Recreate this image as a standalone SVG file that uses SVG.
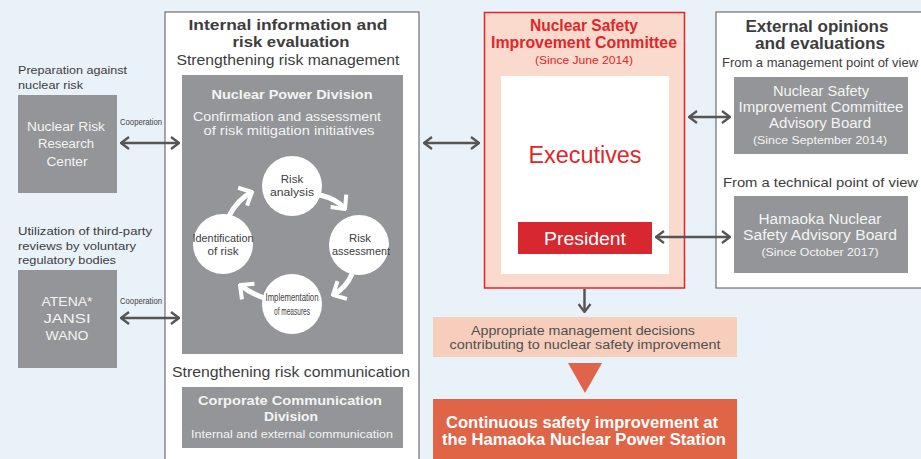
<svg xmlns="http://www.w3.org/2000/svg" width="921" height="459" viewBox="0 0 921 459">
<style>
text{font-family:"Liberation Sans",Arial,sans-serif;}
.dk{fill:#3d3d3d}
.wt{fill:#f4f4f4}
.b{font-weight:bold}
.gbox{fill:#939598}
.c{text-anchor:middle}
.gl{stroke:#555;stroke-width:2.5;fill:none}
.wl{stroke:#fff;stroke-width:5;fill:none}
</style>
<defs>
<marker id="ah" viewBox="0 0 10 14" refX="9" refY="7" markerWidth="10" markerHeight="14" markerUnits="userSpaceOnUse" orient="auto-start-reverse"><path d="M1,1 L9,7 L1,13" fill="none" stroke="#555" stroke-width="2.3"/></marker>
<marker id="wh" viewBox="0 0 14 24" refX="12" refY="12" markerWidth="14" markerHeight="24" markerUnits="userSpaceOnUse" orient="auto"><path d="M1.5,2 L12,12 L1.5,22" fill="none" stroke="#fff" stroke-width="4"/></marker>
</defs>
<rect width="921" height="459" fill="#e9f1f9"/>

<g id="nrrc">
<text class="dk" x="18" y="74" font-size="11.5" textLength="109" lengthAdjust="spacingAndGlyphs">Preparation against</text>
<text class="dk" x="18" y="89" font-size="11.5" textLength="65" lengthAdjust="spacingAndGlyphs">nuclear risk</text>
<rect class="gbox" x="18" y="95" width="99" height="98"/>
<text class="wt c" x="66" y="131" font-size="12.5" textLength="78" lengthAdjust="spacingAndGlyphs">Nuclear Risk</text>
<text class="wt c" x="66" y="148" font-size="12.5" textLength="56" lengthAdjust="spacingAndGlyphs">Research</text>
<text class="wt c" x="67" y="166" font-size="12.5" textLength="41" lengthAdjust="spacingAndGlyphs">Center</text>
</g>

<g id="atena">
<text class="dk" x="18" y="235" font-size="11.5" textLength="134" lengthAdjust="spacingAndGlyphs">Utilization of third-party</text>
<text class="dk" x="18" y="250" font-size="11.5" textLength="118" lengthAdjust="spacingAndGlyphs">reviews by voluntary</text>
<text class="dk" x="18" y="264" font-size="11.5" textLength="98" lengthAdjust="spacingAndGlyphs">regulatory bodies</text>
<rect class="gbox" x="18" y="270" width="99" height="98"/>
<text class="wt c" x="67" y="306" font-size="12.5" textLength="51" lengthAdjust="spacingAndGlyphs">ATENA*</text>
<text class="wt c" x="67" y="323" font-size="12.5" textLength="47" lengthAdjust="spacingAndGlyphs">JANSI</text>
<text class="wt c" x="67" y="340" font-size="12.5" textLength="43" lengthAdjust="spacingAndGlyphs">WANO</text>
</g>

<g id="internal">
<rect x="165" y="12" width="254" height="460" fill="#fff" stroke="#555" stroke-width="1"/>
<text class="dk b c" x="288" y="30" font-size="15" textLength="199" lengthAdjust="spacingAndGlyphs">Internal information and</text>
<text class="dk b c" x="291" y="47" font-size="15" textLength="117" lengthAdjust="spacingAndGlyphs">risk evaluation</text>
<text class="dk c" x="288" y="65" font-size="14" textLength="223" lengthAdjust="spacingAndGlyphs">Strengthening risk management</text>
<text class="dk c" x="291" y="377" font-size="14" textLength="238" lengthAdjust="spacingAndGlyphs">Strengthening risk communication</text>
</g>

<g id="npd">
<rect class="gbox" x="182" y="75" width="221" height="279"/>
<text class="wt b c" x="292" y="99" font-size="13" textLength="161" lengthAdjust="spacingAndGlyphs">Nuclear Power Division</text>
<text class="wt c" x="287" y="121" font-size="12.5" textLength="188" lengthAdjust="spacingAndGlyphs">Confirmation and assessment</text>
<text class="wt c" x="289" y="135" font-size="12.5" textLength="171" lengthAdjust="spacingAndGlyphs">of risk mitigation initiatives</text>
</g>

<g id="cycle">
<circle cx="292" cy="186" r="30" fill="#fff"/>
<circle cx="223" cy="244" r="30" fill="#fff"/>
<circle cx="359" cy="245" r="30" fill="#fff"/>
<circle cx="292" cy="304" r="30" fill="#fff"/>
<path class="wl" d="M320,195 Q337,199 345,209" marker-end="url(#wh)"/>
<path class="wl" d="M352,274 Q346,288 333,295" marker-end="url(#wh)"/>
<path class="wl" d="M264,298 Q250,293 240,285" marker-end="url(#wh)"/>
<path class="wl" d="M229,216 Q238,199 252,192" marker-end="url(#wh)"/>
<text class="dk c" x="292" y="183" font-size="11.5">Risk</text>
<text class="dk c" x="292" y="196" font-size="11.5" textLength="44" lengthAdjust="spacingAndGlyphs">analysis</text>
<text class="dk c" x="223" y="242" font-size="11.5" textLength="61" lengthAdjust="spacingAndGlyphs">Identification</text>
<text class="dk c" x="223" y="255" font-size="11.5" textLength="31" lengthAdjust="spacingAndGlyphs">of risk</text>
<text class="dk c" x="360" y="242" font-size="11.5" textLength="22" lengthAdjust="spacingAndGlyphs">Risk</text>
<text class="dk c" x="361" y="255" font-size="11.5" textLength="58" lengthAdjust="spacingAndGlyphs">assessment</text>
<text class="dk c" x="292" y="301" font-size="11" textLength="53" lengthAdjust="spacingAndGlyphs">Implementation</text>
<text class="dk c" x="292" y="315" font-size="11" textLength="36" lengthAdjust="spacingAndGlyphs">of measures</text>
</g>

<g id="ccd">
<rect class="gbox" x="182" y="387" width="221" height="61"/>
<text class="wt b c" x="290" y="405" font-size="13" textLength="184" lengthAdjust="spacingAndGlyphs">Corporate Communication</text>
<text class="wt b c" x="291" y="421" font-size="13" textLength="54" lengthAdjust="spacingAndGlyphs">Division</text>
<text class="wt c" x="292" y="438" font-size="11.5" textLength="202" lengthAdjust="spacingAndGlyphs">Internal and external communication</text>
</g>

<g id="committee">
<rect x="484.5" y="12.5" width="200" height="275.5" fill="#f9dacd" stroke="#e0262b" stroke-width="1.5"/>
<text class="b c" fill="#e0262b" x="584" y="31" font-size="16" textLength="108" lengthAdjust="spacingAndGlyphs">Nuclear Safety</text>
<text class="b c" fill="#e0262b" x="584" y="48" font-size="16" textLength="186" lengthAdjust="spacingAndGlyphs">Improvement Committee</text>
<text class="c" fill="#e0262b" x="584" y="64" font-size="11" textLength="98" lengthAdjust="spacingAndGlyphs">(Since June 2014)</text>
<rect x="501" y="76" width="168" height="198" fill="#fff"/>
<text class="c" fill="#e0262b" x="585" y="163" font-size="23" textLength="113" lengthAdjust="spacingAndGlyphs">Executives</text>
</g>

<g id="president">
<rect x="518" y="222" width="134" height="32" fill="#d7282f"/>
<text class="c" fill="#fff" x="585" y="245" font-size="19" textLength="82" lengthAdjust="spacingAndGlyphs">President</text>
</g>

<g id="external">
<rect x="716" y="12" width="220" height="276" fill="#fff" stroke="#555" stroke-width="1"/>
<text class="dk b c" x="817" y="32" font-size="16" textLength="143" lengthAdjust="spacingAndGlyphs">External opinions</text>
<text class="dk b c" x="820" y="49" font-size="16" textLength="130" lengthAdjust="spacingAndGlyphs">and evaluations</text>
<text class="dk" x="722" y="67" font-size="13" textLength="196" lengthAdjust="spacingAndGlyphs">From a management point of view</text>
<text class="dk" x="723" y="187" font-size="13" textLength="195" lengthAdjust="spacingAndGlyphs">From a technical point of view</text>
</g>

<g id="advisory">
<rect class="gbox" x="734" y="77" width="174" height="77"/>
<text class="wt c" x="821" y="96" font-size="14" textLength="96" lengthAdjust="spacingAndGlyphs">Nuclear Safety</text>
<text class="wt c" x="821" y="112" font-size="14" textLength="165" lengthAdjust="spacingAndGlyphs">Improvement Committee</text>
<text class="wt c" x="820" y="128" font-size="14" textLength="102" lengthAdjust="spacingAndGlyphs">Advisory Board</text>
<text class="wt c" x="820" y="144" font-size="11.5" textLength="134" lengthAdjust="spacingAndGlyphs">(Since September 2014)</text>
</g>

<g id="hamaoka">
<rect class="gbox" x="734" y="196" width="174" height="77"/>
<text class="wt c" x="820" y="224" font-size="14" textLength="123" lengthAdjust="spacingAndGlyphs">Hamaoka Nuclear</text>
<text class="wt c" x="820" y="240" font-size="14" textLength="154" lengthAdjust="spacingAndGlyphs">Safety Advisory Board</text>
<text class="wt c" x="820" y="256" font-size="11.5" textLength="117" lengthAdjust="spacingAndGlyphs">(Since October 2017)</text>
</g>

<g id="decisions">
<rect x="433" y="317" width="304" height="40" fill="#f7cebc"/>
<text class="c" fill="#505050" x="583" y="335" font-size="13" textLength="224" lengthAdjust="spacingAndGlyphs">Appropriate management decisions</text>
<text class="c" fill="#505050" x="585" y="349" font-size="13" textLength="271" lengthAdjust="spacingAndGlyphs">contributing to nuclear safety improvement</text>
</g>

<g id="triangle">
<polygon points="568,363 602,363 585,393" fill="#e0644a"/>
</g>

<g id="result">
<rect x="433" y="399" width="304" height="70" fill="#e06446"/>
<text class="b c" fill="#fff" x="582" y="428" font-size="16" textLength="272" lengthAdjust="spacingAndGlyphs">Continuous safety improvement at</text>
<text class="b c" fill="#fff" x="584" y="445" font-size="16" textLength="284" lengthAdjust="spacingAndGlyphs">the Hamaoka Nuclear Power Station</text>
</g>

<g id="connectors">
<line class="gl" x1="121" y1="143" x2="179" y2="143" marker-start="url(#ah)" marker-end="url(#ah)"/>
<line class="gl" x1="121" y1="318" x2="179" y2="318" marker-start="url(#ah)" marker-end="url(#ah)"/>
<line class="gl" x1="424" y1="143" x2="479" y2="143" marker-start="url(#ah)" marker-end="url(#ah)"/>
<line class="gl" x1="689" y1="117" x2="730" y2="117" marker-start="url(#ah)" marker-end="url(#ah)"/>
<line class="gl" x1="656" y1="237" x2="730" y2="237" marker-start="url(#ah)" marker-end="url(#ah)"/>
<line class="gl" x1="584.5" y1="289" x2="584.5" y2="312" marker-end="url(#ah)"/>
<text fill="#444" x="120" y="125" font-size="9.5" textLength="42" lengthAdjust="spacingAndGlyphs">Cooperation</text>
<text fill="#444" x="120" y="304" font-size="9.5" textLength="42" lengthAdjust="spacingAndGlyphs">Cooperation</text>
</g>
</svg>
